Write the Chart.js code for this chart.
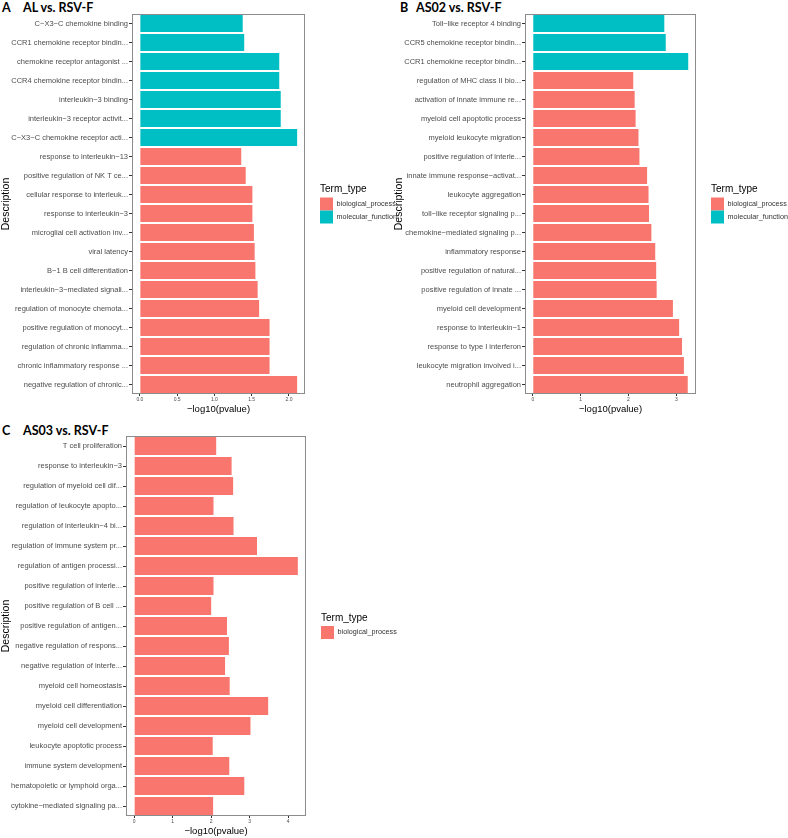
<!DOCTYPE html>
<html>
<head>
<meta charset="utf-8">
<script src="https://cdn.jsdelivr.net/npm/chart.js@4.4.1/dist/chart.umd.min.js"></script>
<style>
body { margin:0; background:#fff; width:788px; height:838px; position:relative; overflow:hidden; }
canvas { position:absolute; }
.head { position:absolute; font-family: Lato, "Liberation Sans", sans-serif; font-weight:bold; font-size:12.5px; line-height:14px; white-space:nowrap; color:#000; }
</style>
</head>
<body>
<div class="head" style="left:2px;top:1px">A</div>
<div class="head" style="left:23px;top:1px">AL vs. RSV-F</div>
<div class="head" style="left:400px;top:1px">B</div>
<div class="head" style="left:416px;top:1px">AS02 vs. RSV-F</div>
<div class="head" style="left:2px;top:424px">C</div>
<div class="head" style="left:23px;top:424px">AS03 vs. RSV-F</div>

<canvas id="cnvA" width="400" height="415" style="left:0px;top:0px"></canvas>
<canvas id="cnvB" width="398" height="415" style="left:390px;top:0px"></canvas>
<canvas id="cnvC" width="401" height="417" style="left:0px;top:420px"></canvas>

<script>
// panel A: AL vs. RSV-F
const labelsA = [
  'C−X3−C chemokine binding', 'CCR1 chemokine receptor bindin...', 'chemokine receptor antagonist ...',
  'CCR4 chemokine receptor bindin...', 'interleukin−3 binding', 'interleukin−3 receptor activit...',
  'C−X3−C chemokine receptor acti...', 'response to interleukin−13', 'positive regulation of NK T ce...',
  'cellular response to interleuk...', 'response to interleukin−3', 'microglial cell activation inv...',
  'viral latency', 'B−1 B cell differentiation', 'interleukin−3−mediated signali...',
  'regulation of monocyte chemota...', 'positive regulation of monocyt...', 'regulation of chronic inflamma...',
  'chronic inflammatory response ...', 'negative regulation of chronic...'
];
const valuesA = [1.38, 1.40, 1.87, 1.87, 1.89, 1.89, 2.11, 1.36, 1.42, 1.51,
                 1.51, 1.53, 1.54, 1.55, 1.58, 1.60, 1.74, 1.74, 1.74, 2.11];
const typesA = ['mf','mf','mf','mf','mf','mf','mf','bp','bp','bp',
                'bp','bp','bp','bp','bp','bp','bp','bp','bp','bp'];
const ticksA = [0, 0.5, 1, 1.5, 2];

// panel B: AS02 vs. RSV-F
const labelsB = [
  'Toll−like receptor 4 binding', 'CCR5 chemokine receptor bindin...', 'CCR1 chemokine receptor bindin...',
  'regulation of MHC class II bio...', 'activation of innate immune re...', 'myeloid cell apoptotic process',
  'myeloid leukocyte migration', 'positive regulation of interle...', 'innate immune response−activat...',
  'leukocyte aggregation', 'toll−like receptor signaling p...', 'chemokine−mediated signaling p...',
  'inflammatory response', 'positive regulation of natural...', 'positive regulation of innate ...',
  'myeloid cell development', 'response to interleukin−1', 'response to type I interferon',
  'leukocyte migration involved i...', 'neutrophil aggregation'
];
const valuesB = [2.75, 2.78, 3.25, 2.10, 2.13, 2.15, 2.21, 2.23, 2.39, 2.42,
                 2.43, 2.48, 2.56, 2.58, 2.59, 2.93, 3.06, 3.12, 3.16, 3.24];
const typesB = ['mf','mf','mf','bp','bp','bp','bp','bp','bp','bp',
                'bp','bp','bp','bp','bp','bp','bp','bp','bp','bp'];
const ticksB = [0, 1, 2, 3];

// panel C: AS03 vs. RSV-F
const labelsC = [
  'T cell proliferation', 'response to interleukin−3', 'regulation of myeloid cell dif...',
  'regulation of leukocyte apopto...', 'regulation of interleukin−4 bi...', 'regulation of immune system pr...',
  'regulation of antigen processi...', 'positive regulation of interle...', 'positive regulation of B cell ...',
  'positive regulation of antigen...', 'negative regulation of respons...', 'negative regulation of interfe...',
  'myeloid cell homeostasis', 'myeloid cell differentiation', 'myeloid cell development',
  'leukocyte apoptotic process', 'immune system development', 'hematopoietic or lymphoid orga...',
  'cytokine−mediated signaling pa...'
];
const valuesC = [2.13, 2.53, 2.57, 2.06, 2.58, 3.19, 4.25, 2.06, 2.00, 2.41,
                 2.46, 2.36, 2.48, 3.48, 3.02, 2.04, 2.47, 2.86, 2.05];
const typesC = labelsC.map(() => 'bp');
const ticksC = [0, 1, 2, 3, 4];

const termNames = { bp: 'biological_process', mf: 'molecular_function' };
const termColors = { bp: '#F8766D', mf: '#00BFC4' };
const FONT = '"Liberation Sans", Arial, sans-serif';

// grey frame round the plot area, like theme_bw without grid
const panelBox = {
  id: 'panelBox',
  afterDatasetsDraw(chart) {
    const a = chart.chartArea;
    const ctx = chart.ctx;
    ctx.save();
    ctx.strokeStyle = '#8c8c8c';
    ctx.lineWidth = 1;
    ctx.strokeRect(a.left + 0.5, a.top + 0.5, a.right - a.left - 1, a.bottom - a.top - 1);
    ctx.restore();
  }
};

function buildDatasets(values, types) {
  return ['bp', 'mf'].filter(t => types.includes(t)).map(t => ({
    label: termNames[t],
    backgroundColor: termColors[t],
    borderWidth: 0,
    grouped: false,
    barPercentage: 0.9,
    categoryPercentage: 1.0,
    xAxisID: 'x',
    yAxisID: 'y',
    data: values.map((v, i) => types[i] === t ? v : null)
  }));
}

function drawPanel(id, labels, values, types, tickVals, decimals, cfg) {
  const top = Math.max(...values) * 1.05;
  const ctx = document.getElementById(id).getContext('2d');
  return new Chart(ctx, {
    type: 'bar',
    data: { labels: labels, datasets: buildDatasets(values, types) },
    plugins: [panelBox],
    options: {
      indexAxis: 'y',
      responsive: false,
      animation: false,
      devicePixelRatio: 1,
      layout: { padding: { top: cfg.padTop, left: 0, right: 0, bottom: 0 } },
      scales: {
        y: {
          type: 'category',
          position: 'left',
          grid: { display: true, drawOnChartArea: false, offset: false, tickLength: 3, color: '#333' },
          border: { display: false },
          ticks: { autoSkip: false, padding: 1, color: '#4d4d4d', font: { family: FONT, size: 7.5 } },
          title: { display: true, text: 'Description', color: '#000', padding: { top: cfg.titlePad, bottom: 0 },
                   font: { family: FONT, size: 10.5 } },
          afterFit: s => { s.width = cfg.yWidth; }
        },
        x: {
          type: 'linear',
          position: 'bottom',
          min: -top * 0.05 / 1.05,
          max: top,
          grid: { display: true, drawOnChartArea: false, tickLength: 2, color: '#333' },
          border: { display: false },
          afterBuildTicks: axis => { axis.ticks = tickVals.map(v => ({ value: v })); },
          ticks: { padding: 1, color: '#4d4d4d', font: { family: FONT, size: 5 },
                   callback: v => Number(v).toFixed(decimals) },
          title: { display: true, text: '−log10(pvalue)', color: '#000', padding: 0,
                   font: { family: FONT, size: 9.5 } },
          afterFit: s => { s.height = 21; }
        },
        gap: {
          type: 'linear',
          position: 'right',
          display: true,
          grid: { display: false },
          border: { display: false },
          ticks: { display: false },
          afterFit: s => { s.width = 15; }
        }
      },
      plugins: {
        tooltip: { enabled: false },
        legend: {
          position: 'right',
          align: 'center',
          fullSize: false,
          maxWidth: cfg.legendWidth,
          title: { display: true, text: 'Term_type', position: 'start', color: '#000',
                   padding: { top: 0, bottom: 1 }, font: { family: FONT, size: 10 } },
          labels: { boxWidth: 13, boxHeight: 13, padding: 0, color: '#333',
                    font: { family: FONT, size: 7.2 } }
        }
      }
    }
  });
}

drawPanel('cnvA', labelsA, valuesA, typesA, ticksA, 1, { yWidth: 132, padTop: 14, legendWidth: 80, titlePad: 0 });
drawPanel('cnvB', labelsB, valuesB, typesB, ticksB, 0, { yWidth: 135, padTop: 14, legendWidth: 77, titlePad: 3 });
drawPanel('cnvC', labelsC, valuesC, typesC, ticksC, 0, { yWidth: 126, padTop: 16, legendWidth: 80, titlePad: 0 });
</script>
</body>
</html>
